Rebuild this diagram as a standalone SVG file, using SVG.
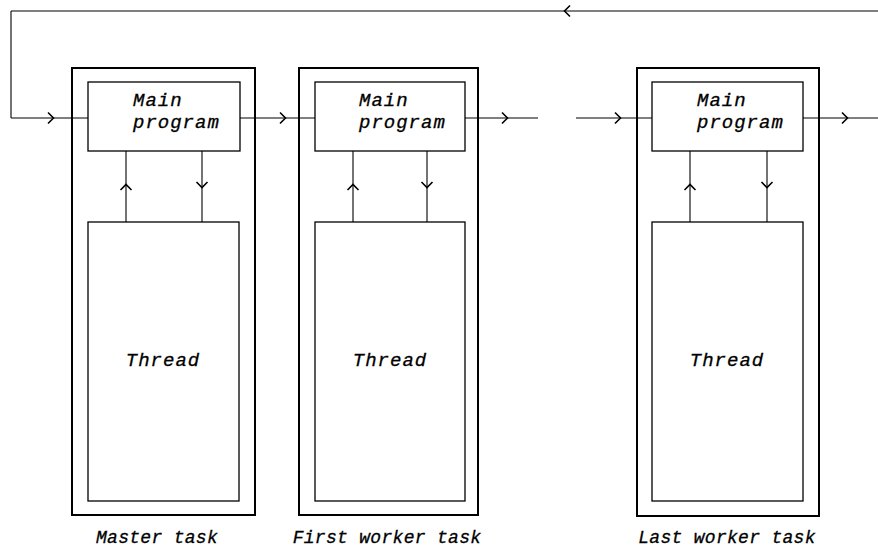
<svg xmlns="http://www.w3.org/2000/svg" width="878" height="552" viewBox="0 0 878 552">
<style>
.outer{fill:none;stroke:#000;stroke-width:2}
.inner{fill:#fff;stroke:#000;stroke-width:1.3}
.c{fill:none;stroke:#000;stroke-width:1.1}
.t{font-family:"Liberation Mono",monospace;font-style:italic;font-size:19px;letter-spacing:1px;fill:#000;stroke:#000;stroke-width:0.3}
.lbl{font-family:"Liberation Mono",monospace;font-style:italic;font-size:18px;letter-spacing:0.3px;fill:#000;stroke:#000;stroke-width:0.3}
</style>
<defs>
<marker id="a" markerUnits="userSpaceOnUse" markerWidth="14" markerHeight="14" refX="7" refY="7" orient="auto" viewBox="0 0 14 14">
<path d="M2,1.5 L7.5,7 L2,12.5" fill="none" stroke="#000" stroke-width="1.6"/>
</marker>
</defs>
<rect width="878" height="552" fill="#fff"/>
<g id="master">
<rect class="outer" x="72" y="68" width="183" height="447"/>
<rect class="inner" x="88" y="82" width="152" height="69"/>
<text class="t" x="133" y="106">Main</text>
<text class="t" x="133" y="128">program</text>
<rect class="inner" x="88" y="222" width="151" height="279"/>
<text class="t" x="163" y="366" text-anchor="middle">Thread</text>
<text class="lbl" x="157" y="543" text-anchor="middle">Master task</text>
</g>
<g id="first">
<rect class="outer" x="299" y="68" width="179" height="447"/>
<rect class="inner" x="315" y="82" width="150" height="69"/>
<text class="t" x="359" y="106">Main</text>
<text class="t" x="359" y="128">program</text>
<rect class="inner" x="315" y="222" width="150" height="279"/>
<text class="t" x="390" y="366" text-anchor="middle">Thread</text>
<text class="lbl" x="387" y="543" text-anchor="middle">First worker task</text>
</g>
<g id="last">
<rect class="outer" x="637" y="68" width="182" height="448"/>
<rect class="inner" x="652" y="82" width="151" height="69"/>
<text class="t" x="697" y="106">Main</text>
<text class="t" x="697" y="128">program</text>
<rect class="inner" x="652" y="222" width="151" height="279"/>
<text class="t" x="727" y="366" text-anchor="middle">Thread</text>
<text class="lbl" x="727" y="543" text-anchor="middle">Last worker task</text>
</g>
<g id="connectors">
<path class="c" d="M878,11 L565,11 L11,11" marker-mid="url(#a)"/>
<path class="c" d="M11,11 L11,118"/>
<path class="c" d="M11,118 L53,118 L88,118" marker-mid="url(#a)"/>
<path class="c" d="M240,118 L285,118 L315,118" marker-mid="url(#a)"/>
<path class="c" d="M465,118 L507,118 L538,118" stroke-width="1.6" marker-mid="url(#a)"/>
<path class="c" d="M576,118 L620,118 L652,118" stroke-width="1.6" marker-mid="url(#a)"/>
<path class="c" d="M803,118 L847,118 L878,118" marker-mid="url(#a)"/>
<path class="c" d="M126,222 L126,185 L126,151" marker-mid="url(#a)"/>
<path class="c" d="M202,151 L202,187 L202,222" marker-mid="url(#a)"/>
<path class="c" d="M353,222 L353,185 L353,151" marker-mid="url(#a)"/>
<path class="c" d="M427,151 L427,187 L427,222" marker-mid="url(#a)"/>
<path class="c" d="M690,222 L690,185 L690,151" marker-mid="url(#a)"/>
<path class="c" d="M767,151 L767,187 L767,222" marker-mid="url(#a)"/>
</g>
</svg>
